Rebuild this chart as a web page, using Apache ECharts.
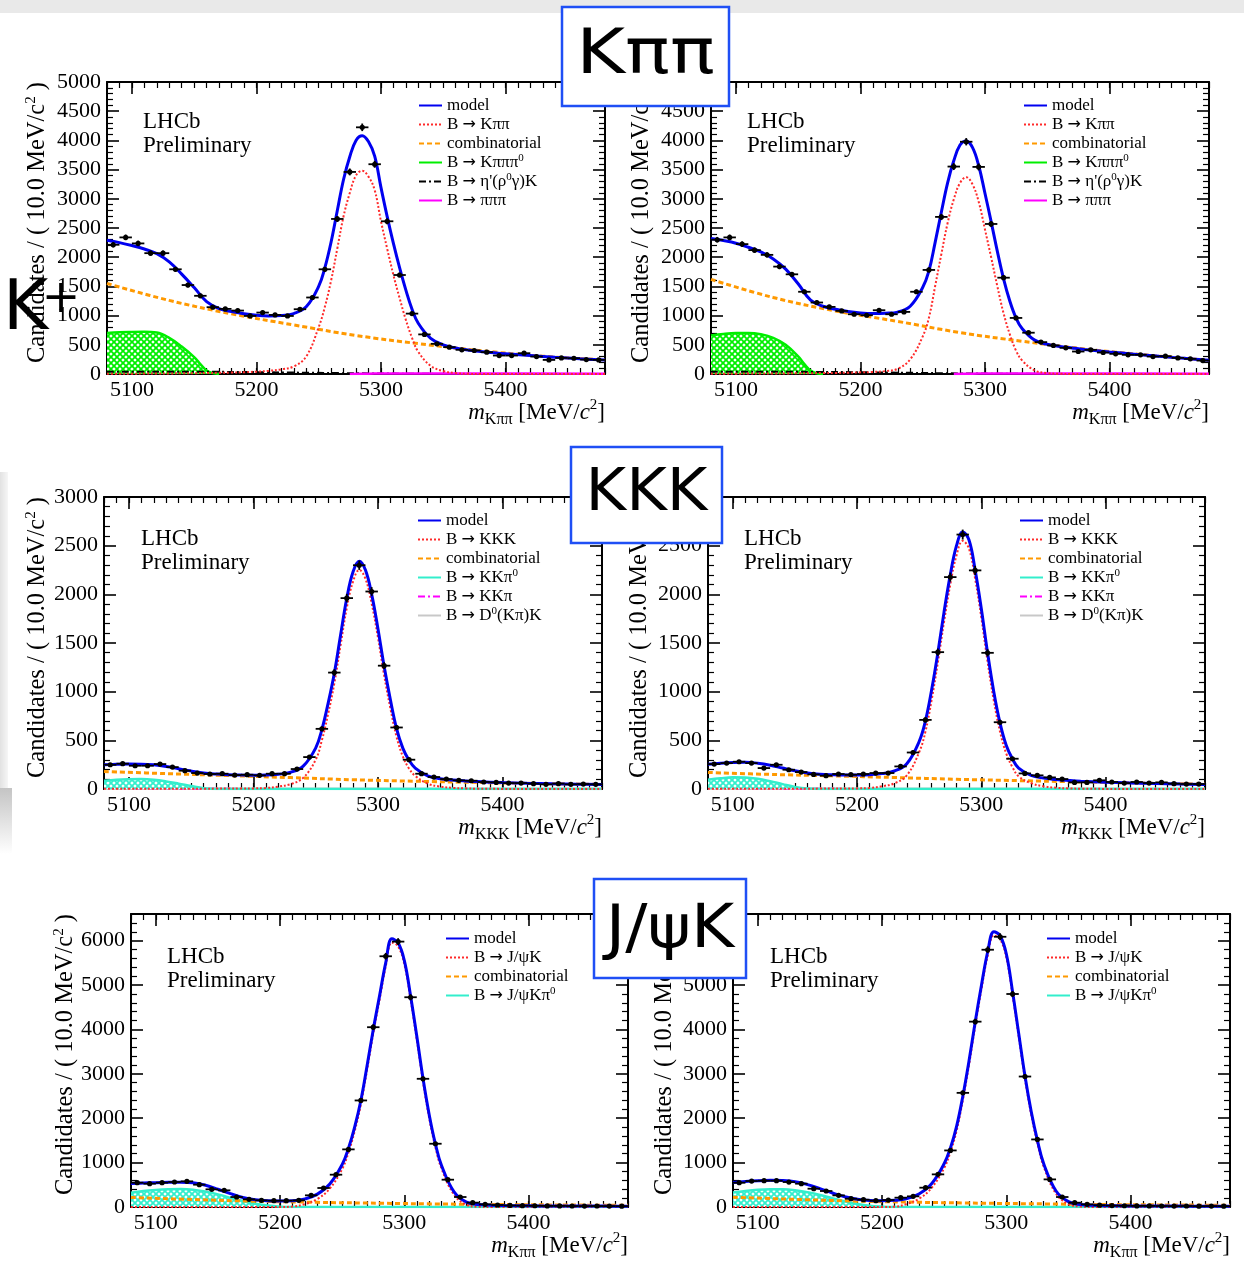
<!DOCTYPE html>
<html><head><meta charset="utf-8">
<script src="https://cdn.jsdelivr.net/npm/echarts@6/dist/echarts.min.js"></script>
<style>html,body{margin:0;padding:0;background:#fff;}#c{width:1244px;height:1263px;}</style>
</head><body><div id="c"></div>
<script>
// ---------------- DATA ----------------
const binX = [5085,5095,5105,5115,5125,5135,5145,5155,5165,5175,5185,5195,5205,5215,5225,5235,5245,5255,5265,5275,5285,5295,5305,5315,5325,5335,5345,5355,5365,5375,5385,5395,5405,5415,5425,5435,5445,5455,5465,5475];
const xTicks = [5100,5200,5300,5400];
const knotX = [5080,5090,5100,5110,5120,5130,5140,5150,5160,5170,5180,5190,5200,5210,5220,5230,5240,5250,5255,5260,5265,5270,5275,5280,5285,5290,5295,5300,5305,5310,5315,5320,5325,5330,5340,5350,5360,5370,5380,5400,5420,5440,5460,5480];
const combX = [5080,5130,5180,5230,5280,5330,5380,5430,5480];
const greenX = [5080,5090,5100,5110,5120,5130,5140,5150,5155,5160,5165,5170];
const etaX = [5080,5120,5160,5200,5240,5280,5320,5360,5480];
const piX = [5275,5290,5300,5340,5400,5480];
const cyanX = [5080,5090,5100,5110,5120,5130,5140,5150,5160,5170,5180,5190,5200,5210,5480];
const kkpX = [5080,5120,5160,5200];
const d0X = [5080,5480];

// K pi pi (left)
const k1Data = [2213,2339,2236,2069,2069,1793,1523,1339,1144,1115,1086,994,1052,1011,994,1109,1310,1793,2655,3460,4224,3592,2615,1695,1034,678,517,460,414,402,374,316,316,356,299,241,276,270,247,241];
const k1Model = [2290,2250,2200,2140,2060,1920,1710,1480,1240,1120,1070,1030,1005,995,1000,1035,1150,1500,1820,2260,2800,3330,3720,4000,4080,3980,3730,3200,2700,2240,1820,1440,1110,870,610,500,445,410,385,345,315,287,262,240];
const k1Sig = [5,5,6,7,8,10,12,14,17,20,24,30,40,55,80,130,300,800,1150,1600,2150,2700,3100,3400,3480,3380,3150,2620,2150,1700,1300,930,620,380,140,50,15,3,0,0,0,0,0,0];
const k1Comb = [1550,1260,1030,840,660,520,400,305,240];
const k1Green = [700,715,720,722,710,620,470,290,170,60,15,0];
const k1Eta = [40,40,38,32,22,12,5,1,0];
const k1Pi = [0,6,8,10,8,6];

// K pi pi (right)
const k2Data = [2299,2339,2224,2121,2040,1839,1707,1408,1224,1149,1080,1023,1006,1092,1023,1063,1408,1782,2690,3552,3977,3546,2569,1649,960,707,546,489,448,385,414,368,345,328,328,299,305,276,259,230];
const k2Model = [2320,2285,2240,2170,2090,1970,1795,1545,1265,1160,1110,1070,1045,1035,1040,1060,1160,1480,1760,2250,2770,3270,3650,3920,3990,3880,3570,3100,2610,2100,1630,1250,960,775,580,510,472,445,420,378,340,302,268,235];
const k2Sig = [5,5,6,7,8,9,10,12,14,16,18,22,28,35,50,90,250,640,960,1500,2050,2580,2990,3270,3370,3250,2950,2480,2000,1500,1040,680,400,230,60,15,4,1,0,0,0,0,0,0];
const k2Comb = [1620,1310,1080,900,710,560,430,325,235];
const k2Green = [660,685,700,702,680,620,500,300,170,60,12,0];
const k2Eta = [38,38,36,30,20,10,4,1,0];
const k2Pi = [0,6,8,10,8,6];

// KKK (left)
const k3Data = [249,260,239,239,256,225,188,164,154,157,143,147,140,157,157,205,328,618,1196,1961,2299,2029,1267,632,301,157,123,102,89,85,72,68,61,61,55,48,55,48,51,48];
const k3Model = [250,254,256,255,248,232,208,184,165,154,147,143,141,143,152,172,235,420,610,880,1190,1580,1960,2230,2340,2250,2000,1650,1260,920,620,420,295,215,135,105,92,83,76,66,59,54,50,47];
const k3Sig = [2,2,2,2,2,3,3,3,3,4,4,5,6,10,25,50,115,300,500,770,1085,1475,1860,2130,2250,2160,1905,1560,1170,830,535,335,210,135,55,25,12,6,3,1,0,0,0,0];
const k3Comb = [180,158,138,117,95,80,67,56,47];
const k3Cyan = [85,95,100,102,95,78,55,30,8,0,0,0,0,0,0];
const k3Kkp = [10,8,4,0];
const k3D0 = [2,2];

// KKK (right)
const k4Data = [256,266,280,266,215,249,198,174,150,137,154,147,154,164,164,232,375,710,1406,2177,2614,2246,1399,686,311,160,140,119,102,68,68,89,72,61,72,61,68,55,51,51];
const k4Model = [255,265,272,274,265,245,215,187,165,152,146,143,143,147,158,185,260,490,700,1020,1400,1820,2200,2500,2640,2560,2250,1850,1400,1000,680,450,310,215,140,112,98,88,80,70,62,56,51,47];
const k4Sig = [2,2,2,2,2,3,3,3,3,4,4,5,6,10,28,58,140,380,590,915,1300,1720,2100,2400,2550,2470,2160,1760,1310,910,590,365,225,130,60,28,13,6,3,1,0,0,0,0];
const k4Comb = [170,150,135,118,100,86,73,61,50];
const k4Cyan = [95,110,120,118,105,80,50,22,5,0,0,0,0,0,0];
const k4Kkp = [10,8,4,0];
const k4D0 = [2,2];

// J/psi K (left)
const k5Data = [548,525,548,563,578,503,398,375,225,173,150,143,143,150,263,428,728,1298,2400,4050,5648,5978,4725,2888,1425,615,225,98,60,45,35,30,28,25,25,22,20,22,20,18];
const k5Model = [530,540,548,556,560,545,490,400,300,215,165,142,135,142,180,290,520,960,1320,1800,2400,3180,4000,4750,5500,6040,5950,5550,4760,3850,2900,2080,1420,930,340,110,55,40,32,26,23,21,20,19];
const k5Sig = [0,0,0,0,0,0,0,0,0,0,0,0,0,10,65,180,415,860,1225,1705,2310,3090,3915,4665,5415,5955,5870,5470,4680,3775,2825,2005,1345,860,275,50,5,0,0,0,0,0,0,0];
const k5Comb = [215,168,130,105,85,68,55,45,37];
const k5Cyan = [320,360,385,400,405,390,345,285,205,135,75,32,8,0,0];

// J/psi K (right)
const k6Data = [547,585,592,592,562,525,412,360,262,187,165,142,157,210,240,435,735,1274,2571,4175,5795,6087,4798,2939,1522,622,225,97,60,40,32,28,25,25,22,20,22,18,20,18];
const k6Model = [550,575,592,600,595,570,505,415,315,230,175,148,140,150,190,300,530,980,1330,1820,2500,3300,4180,5000,5750,6200,6110,5700,4850,3900,2950,2150,1500,980,360,120,55,38,30,25,22,20,19,18];
const k6Sig = [0,0,0,0,0,0,0,0,0,0,0,0,0,5,70,190,435,880,1235,1725,2410,3210,4090,4910,5665,6115,6030,5620,4775,3830,2885,2085,1440,915,300,65,10,0,0,0,0,0,0,0];
const k6Comb = [220,172,132,106,86,70,56,46,38];
const k6Cyan = [325,362,388,398,398,378,332,272,196,126,66,26,8,0,0];

// ---------------- LAYOUT / STYLE ----------------
const FONT = 'Liberation Serif';
const SANS = 'DejaVu Sans';
const panels = [
  {grid:{left:107,top:82,width:498,height:292}, yMax:5000, yInt:500, kind:'kpp', sigName:'B \u2192 K\u03c0\u03c0', data:k1Data, model:k1Model, sig:k1Sig, comb:k1Comb, green:k1Green, eta:k1Eta, pi:k1Pi, xsub:'K\u03c0\u03c0', lhcb:[143,110], leg:[418,96], ytx:38},
  {grid:{left:711,top:82,width:498,height:292}, yMax:5000, yInt:500, kind:'kpp', sigName:'B \u2192 K\u03c0\u03c0', data:k2Data, model:k2Model, sig:k2Sig, comb:k2Comb, green:k2Green, eta:k2Eta, pi:k2Pi, xsub:'K\u03c0\u03c0', lhcb:[747,110], leg:[1023,96], ytx:642},
  {grid:{left:104,top:497,width:498,height:292}, yMax:3000, yInt:500, kind:'kkk', sigName:'B \u2192 KKK', data:k3Data, model:k3Model, sig:k3Sig, comb:k3Comb, cyan:k3Cyan, kkp:k3Kkp, d0:k3D0, xsub:'KKK', lhcb:[141,527], leg:[417,511], ytx:38},
  {grid:{left:708,top:497,width:497,height:292}, yMax:3000, yInt:500, kind:'kkk', sigName:'B \u2192 KKK', data:k4Data, model:k4Model, sig:k4Sig, comb:k4Comb, cyan:k4Cyan, kkp:k4Kkp, d0:k4D0, xsub:'KKK', lhcb:[744,527], leg:[1019,511], ytx:640},
  {grid:{left:131,top:914,width:497,height:293}, yMax:6600, yInt:1000, kind:'jpsi', sigName:'B \u2192 J/\u03c8K', data:k5Data, model:k5Model, sig:k5Sig, comb:k5Comb, cyan:k5Cyan, xsub:'K\u03c0\u03c0', lhcb:[167,945], leg:[445,929], ytx:66},
  {grid:{left:733,top:914,width:497,height:293}, yMax:6600, yInt:1000, kind:'jpsi', sigName:'B \u2192 J/\u03c8K', data:k6Data, model:k6Model, sig:k6Sig, comb:k6Comb, cyan:k6Cyan, xsub:'K\u03c0\u03c0', lhcb:[770,945], leg:[1046,929], ytx:665}
];

function hatch(color){
  const c = document.createElement('canvas'); c.width = 6; c.height = 6;
  const g = c.getContext('2d');
  g.fillStyle = '#ffffff'; g.fillRect(0,0,6,6);
  g.strokeStyle = color; g.lineWidth = 1.8;
  g.beginPath();
  g.moveTo(-1,-1); g.lineTo(7,7); g.moveTo(7,-1); g.lineTo(-1,7);
  g.stroke();
  return c;
}
const greenPat = {image: hatch('#00ee00'), repeat:'repeat'};
const cyanPat = {image: hatch('#33eecc'), repeat:'repeat'};

function pairs(xs, ys){ return xs.map((x,j)=>[x, ys[j]]); }
const plain = v => String(v);

const grids=[], xAxes=[], yAxes=[], series=[], legends=[], graphics=[];

panels.forEach((p,i)=>{
  grids.push(Object.assign({containLabel:false}, p.grid));
  const xBase = {gridIndex:i, type:'value', min:5080, max:5480, splitLine:{show:false}};
  xAxes.push(Object.assign({}, xBase, {position:'bottom',
    axisLine:{show:true,onZero:false,lineStyle:{color:'#000',width:2}},
    axisTick:{show:true,inside:true,length:12,customValues:xTicks,lineStyle:{color:'#000',width:1.6}},
    axisLabel:{show:true,customValues:xTicks,formatter:plain,fontFamily:FONT,fontSize:22,color:'#000',margin:5}}));
  xAxes.push(Object.assign({}, xBase, {position:'bottom', interval:10,
    axisLine:{show:false,onZero:false}, axisTick:{show:true,inside:true,length:6,lineStyle:{color:'#000',width:1.2}},
    axisLabel:{show:false}}));
  xAxes.push(Object.assign({}, xBase, {position:'top',
    axisLine:{show:true,onZero:false,lineStyle:{color:'#000',width:2}},
    axisTick:{show:true,inside:true,length:12,customValues:xTicks,lineStyle:{color:'#000',width:1.6}},
    axisLabel:{show:false}}));
  xAxes.push(Object.assign({}, xBase, {position:'top', interval:10,
    axisLine:{show:false,onZero:false}, axisTick:{show:true,inside:true,length:6,lineStyle:{color:'#000',width:1.2}},
    axisLabel:{show:false}}));
  const yBase = {gridIndex:i, type:'value', min:0, max:p.yMax, interval:p.yInt, splitLine:{show:false},
    axisLine:{show:true,onZero:false,lineStyle:{color:'#000',width:2}},
    axisTick:{show:true,inside:true,length:12,lineStyle:{color:'#000',width:1.6}},
    minorTick:{show:true,splitNumber:5,length:6,lineStyle:{color:'#000',width:1.2}}};
  yAxes.push(Object.assign({}, yBase, {position:'left',
    axisLabel:{show:true,formatter:plain,fontFamily:FONT,fontSize:22,color:'#000',margin:6,showMaxLabel:(p.yMax % p.yInt===0)}}));
  yAxes.push(Object.assign({}, yBase, {position:'right', axisLabel:{show:false}}));

  const xi = 4*i, yi = 2*i;
  const line = (name, xs, ys, ls, extra) => Object.assign({
    type:'line', name, xAxisIndex:xi, yAxisIndex:yi, data:pairs(xs,ys), smooth:0.4,
    symbol:'none', lineStyle:ls, itemStyle:{color:ls.color}, silent:true, z:4}, extra||{});

  let names;
  if (p.kind==='kpp'){
    series.push(line('B \u2192 K\u03c0\u03c0\u03c00', greenX, p.green, {color:'#00ee00',width:2.5}, {areaStyle:{color:greenPat,opacity:1}, z:3}));
    series.push(line("B \u2192 \u03b7'(\u03c10\u03b3)K", etaX, p.eta, {color:'#000',width:2,type:[7,3,2,3]}));
    series.push(line('B \u2192 \u03c0\u03c0\u03c0', piX, p.pi, {color:'#ff00ff',width:2.5}));
    names = ['model', p.sigName, 'combinatorial', 'B \u2192 K\u03c0\u03c0\u03c00', "B \u2192 \u03b7'(\u03c10\u03b3)K", 'B \u2192 \u03c0\u03c0\u03c0'];
  } else if (p.kind==='kkk'){
    series.push(line('B \u2192 D0(K\u03c0)K', d0X, p.d0, {color:'#c8c8c8',width:2.5}, {z:2}));
    series.push(line('B \u2192 KK\u03c0', kkpX, p.kkp, {color:'#ff00ff',width:2,type:[7,3,2,3]}, {z:2}));
    series.push(line('B \u2192 KK\u03c00', cyanX, p.cyan, {color:'#33eecc',width:2.5}, {areaStyle:{color:cyanPat,opacity:1}, z:3}));
    names = ['model', p.sigName, 'combinatorial', 'B \u2192 KK\u03c00', 'B \u2192 KK\u03c0', 'B \u2192 D0(K\u03c0)K'];
  } else {
    series.push(line('B \u2192 J/\u03c8K\u03c00', cyanX, p.cyan, {color:'#33eecc',width:2.5}, {areaStyle:{color:cyanPat,opacity:1}, z:3}));
    names = ['model', p.sigName, 'combinatorial', 'B \u2192 J/\u03c8K\u03c00'];
  }
  series.push(line('combinatorial', combX, p.comb, {color:'#ff9900',width:3,type:[5,3]}, {z:5}));
  series.push(line(p.sigName, knotX, p.sig, {color:'#ff2a2a',width:2,type:[2,2]}, {z:5}));
  series.push(line('model', knotX, p.model, {color:'#0000f0',width:3}, {z:6}));
  series.push({type:'custom', xAxisIndex:xi, yAxisIndex:yi, z:10, silent:true,
    data: pairs(binX, p.data),
    renderItem(params, api){
      const x = api.value(0), y = api.value(1), e = Math.sqrt(y);
      const c = api.coord([x,y]), l = api.coord([x-5,y]), r = api.coord([x+5,y]);
      const t = api.coord([x,y+e]), b = api.coord([x,y-e]);
      return {type:'group', children:[
        {type:'line', shape:{x1:l[0],y1:l[1],x2:r[0],y2:r[1]}, style:{stroke:'#000',lineWidth:1.8}},
        {type:'line', shape:{x1:t[0],y1:t[1],x2:b[0],y2:b[1]}, style:{stroke:'#000',lineWidth:1.8}},
        {type:'circle', shape:{cx:c[0],cy:c[1],r:2.6}, style:{fill:'#000'}}
      ]};
    }});

  legends.push({left:p.leg[0], top:p.leg[1], orient:'vertical', padding:0, itemGap:0, itemWidth:23, itemHeight:14,
    selectedMode:false, data:names,
    itemStyle:{color:'rgba(0,0,0,0)', borderWidth:0, opacity:0},
    formatter: n => n.replace('\u2192','{a|\u2192}').replace(/0/g,'{s|0}'),
    textStyle:{fontFamily:FONT, fontSize:17, color:'#000', lineHeight:19,
      rich:{s:{fontFamily:FONT, fontSize:11, lineHeight:8, verticalAlign:'top', color:'#000'},
            a:{fontFamily:'DejaVu Sans', fontSize:16, color:'#000'}}}});

  graphics.push({type:'text', x:p.lhcb[0], y:p.lhcb[1], z:20, style:{text:'LHCb\nPreliminary', fontFamily:FONT, fontSize:23, lineHeight:24, fill:'#000', align:'left', verticalAlign:'top'}});
  graphics.push({type:'text', x:p.grid.left+p.grid.width, y:p.grid.top+p.grid.height+24, z:20,
    style:{text:'{it|m}{sub|'+p.xsub+'} [MeV/{it|c}{sup|2}]', fontFamily:FONT, fontSize:23, lineHeight:30, fill:'#000', align:'right', verticalAlign:'top',
      rich:{it:{fontStyle:'italic', fontFamily:FONT, fontSize:23}, sub:{fontFamily:FONT, fontSize:16, lineHeight:16, verticalAlign:'bottom'}, sup:{fontFamily:FONT, fontSize:15, lineHeight:14, verticalAlign:'top'}}}});
  graphics.push({type:'text', x:p.ytx, y:p.grid.top, rotation:Math.PI/2, z:20,
    style:{text:'Candidates / ( 10.0 MeV/c{sup|2} )', fontFamily:FONT, fontSize:24.5, lineHeight:28, fill:'#000', align:'right', verticalAlign:'middle',
      rich:{sup:{fontFamily:FONT, fontSize:15, lineHeight:14, verticalAlign:'top'}}}});
});

// page decorations
graphics.push({type:'rect', shape:{x:0,y:0,width:1244,height:13}, style:{fill:'#e9e9e9'}, z:1});
graphics.push({type:'rect', shape:{x:0,y:472,width:8,height:316}, style:{fill:new echarts.graphic.LinearGradient(0,0,1,0,[{offset:0,color:'#e2e2e2'},{offset:1,color:'#f6f6f6'}])}, z:1});
graphics.push({type:'rect', shape:{x:0,y:788,width:12,height:66}, style:{fill:new echarts.graphic.LinearGradient(0,0,0,1,[{offset:0,color:'#c4c4c4'},{offset:1,color:'#ffffff'}])}, z:1});
const boxes = [
  {x:562,y:7,w:167,h:99,t:'K\u03c0\u03c0',fs:62,sx:1.2,cy:57},
  {x:571,y:447,w:151,h:96,t:'KKK',fs:59,sx:1.05,cy:495},
  {x:594,y:879,w:152,h:99,t:'J/\u03c8K',fs:60,sx:1.1,cy:931}
];
boxes.forEach(b=>{
  graphics.push({type:'rect', shape:{x:b.x,y:b.y,width:b.w,height:b.h}, style:{fill:'#fff',stroke:'#1f4ff5',lineWidth:2.5}, z:100});
  graphics.push({type:'text', x:b.x+b.w/2, y:b.cy, scaleX:b.sx, z:101, style:{text:b.t, fontFamily:SANS, fontSize:b.fs, fill:'#000', align:'center', verticalAlign:'middle'}});
});
graphics.push({type:'text', x:3, y:311, z:101, style:{text:'K', fontFamily:SANS, fontSize:69, fill:'#000', align:'left', verticalAlign:'middle'}});
graphics.push({type:'text', x:61, y:300, z:101, style:{text:'+', fontFamily:SANS, fontSize:46, fill:'#000', align:'center', verticalAlign:'middle'}});

const chart = echarts.init(document.getElementById('c'), null, {renderer:'canvas', width:1244, height:1263});
chart.setOption({
  animation:false, backgroundColor:'#fff',
  grid:grids, xAxis:xAxes, yAxis:yAxes, series:series, legend:legends, graphic:graphics
});
</script></body></html>
